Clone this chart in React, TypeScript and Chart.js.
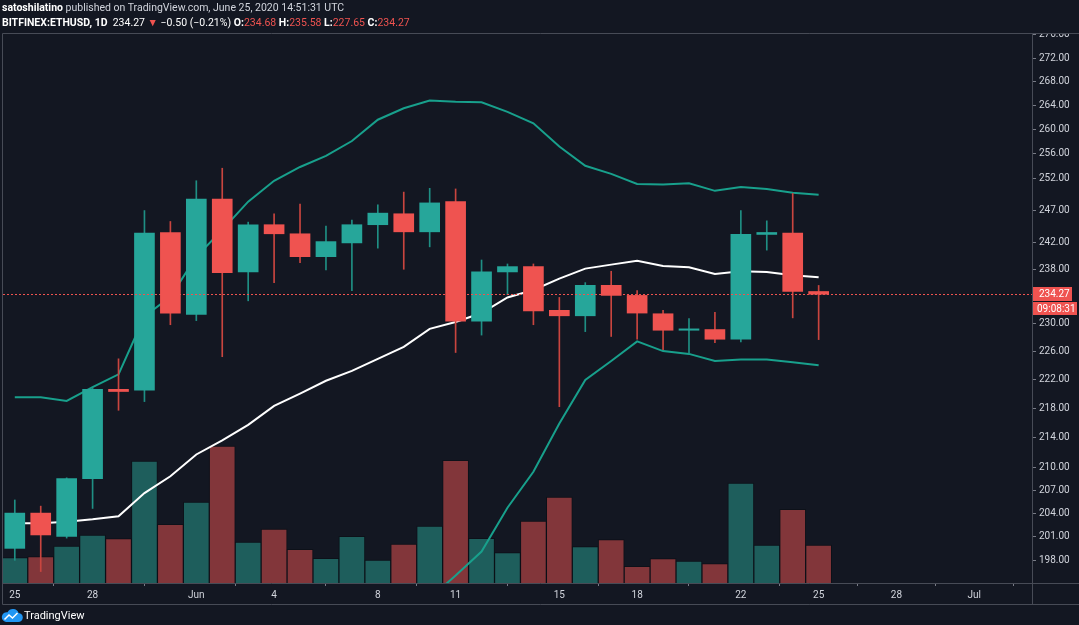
import React, { useEffect, useRef } from "react";
import { Chart, registerables } from "chart.js";

Chart.register(...registerables);

// ---- data (day index 0 = May 25, 2020) ----
const opens = [199.5, 204.0, 201.0, 208.5, 220.6, 220.5, 243.6, 231.3, 248.8, 237.6, 244.8, 243.4, 239.9, 242.0, 244.8, 246.5, 243.7, 248.4, 230.3, 237.6, 238.4, 231.9, 231.1, 235.6, 234.1, 231.4, 229.0, 229.1, 227.7, 243.3, 243.5, 234.68];
const highs = [205.7, 204.9, 208.6, 220.8, 224.9, 247.0, 245.3, 251.7, 253.7, 245.2, 246.5, 248.0, 244.6, 245.5, 247.9, 249.9, 250.5, 250.4, 239.4, 238.8, 238.8, 233.8, 236.0, 237.7, 234.8, 231.9, 230.7, 231.6, 247.0, 245.4, 249.7, 235.58];
const lows = [198.0, 196.6, 200.8, 204.6, 217.7, 218.9, 229.8, 230.4, 225.2, 233.3, 236.0, 239.0, 237.9, 234.8, 241.2, 238.0, 241.4, 225.8, 228.3, 234.2, 229.8, 218.2, 228.8, 228.1, 227.7, 226.2, 225.7, 227.2, 227.3, 240.9, 230.8, 227.65];
const closes = [204.0, 201.2, 208.5, 220.6, 220.3, 243.5, 231.5, 248.8, 237.5, 244.8, 243.4, 239.9, 242.2, 244.8, 246.6, 243.7, 248.2, 230.3, 237.6, 238.4, 231.8, 231.1, 235.6, 234.1, 231.5, 229.0, 229.2, 227.7, 243.3, 243.6, 234.7, 234.27];
const volumes = [7.6, 7.9, 11.1, 14.4, 13.3, 36.6, 17.6, 24.3, 41.1, 12.3, 16.2, 10.1, 7.4, 14.0, 6.9, 11.7, 17.1, 36.8, 13.4, 9.1, 18.6, 25.8, 10.9, 13.0, 5.0, 7.3, 6.6, 5.8, 30.0, 11.4, 22.1, 11.4];
const bbUpper = [219.5, 219.5, 219.0, 220.9, 222.7, 231.0, 233.9, 239.9, 244.0, 248.4, 251.7, 253.9, 255.7, 258.1, 261.6, 263.5, 264.8, 264.6, 264.5, 262.9, 261.0, 257.2, 254.1, 252.8, 251.2, 251.1, 251.3, 250.1, 250.7, 250.4, 249.8, 249.5];
const bbMiddle = [202.7, 202.7, 202.9, 203.2, 203.6, 206.6, 208.8, 211.7, 213.6, 215.7, 218.3, 220.0, 221.8, 223.2, 224.9, 226.6, 229.2, 230.2, 231.5, 233.8, 234.9, 236.6, 238.1, 238.7, 239.3, 238.5, 238.3, 237.3, 237.7, 237.6, 237.1, 236.8];
const bbLower: (number | null)[] = [null, null, null, null, null, null, null, null, null, null, null, null, null, null, null, null, 193.3, 196.1, 199.1, 204.7, 209.4, 215.9, 221.9, 224.6, 227.4, 226.0, 225.6, 224.6, 224.8, 224.8, 224.4, 224.0];

const priceTicks = [276, 272, 268, 264, 260, 256, 252, 247, 242, 238, 230, 226, 222, 218, 214, 210, 207, 204, 201, 198];
const dateTickDays = [0, 3, 7, 10, 14, 17, 21, 24, 28, 31, 34, 37];
const dateTickLabels = ["25", "28", "Jun", "4", "8", "11", "15", "18", "22", "25", "28", "Jul"];

const lastPrice = 234.27;
const countdown = "09:08:31";

// ---- styles ----
const W = 1079;
const H = 625;
const BG = "#131722";
const UP = "#26a69a";
const DOWN = "#ef5350";
const UP_WICK = "#1f8f84";
const DOWN_WICK = "#c9453f";
const VOL_UP = "#1e5e5c";
const VOL_DOWN = "#82363a";
const BAND = "#18a08c";
const FRAME = "#474b56";
const TEXT = "#d1d4dc";

const overlayPlugin = {
  id: "tvOverlay",
  afterDraw(chart: any) {
    const ctx = chart.ctx as CanvasRenderingContext2D;
    const { left, right, top, bottom } = chart.chartArea;
    const y = chart.scales.y.getPixelForValue(lastPrice);
    ctx.save();
    // current price dotted line
    ctx.strokeStyle = DOWN;
    ctx.lineWidth = 1;
    ctx.setLineDash([2, 2]);
    ctx.beginPath();
    ctx.moveTo(left, Math.round(y) + 0.5);
    ctx.lineTo(right, Math.round(y) + 0.5);
    ctx.stroke();
    ctx.setLineDash([]);
    // mask above pane
    ctx.fillStyle = BG;
    ctx.fillRect(0, 0, W, top - 1);
    // frame lines
    ctx.strokeStyle = FRAME;
    ctx.lineWidth = 1;
    ctx.beginPath();
    ctx.moveTo(2.5, top - 0.5);
    ctx.lineTo(W, top - 0.5);
    ctx.moveTo(2.5, top - 0.5);
    ctx.lineTo(2.5, bottom + 21.5);
    ctx.moveTo(2.5, bottom + 0.5);
    ctx.lineTo(W, bottom + 0.5);
    ctx.moveTo(2.5, bottom + 21.5);
    ctx.lineTo(W, bottom + 21.5);
    ctx.moveTo(right + 0.5, top - 0.5);
    ctx.lineTo(right + 0.5, bottom + 21.5);
    ctx.stroke();
    // price label boxes
    const yr = Math.round(y);
    ctx.fillStyle = DOWN;
    ctx.fillRect(right + 1, yr - 7, 39, 14);
    ctx.fillRect(right + 1, yr + 8, 44, 13);
    ctx.fillStyle = "#ffffff";
    ctx.font = "10px Roboto";
    ctx.textBaseline = "middle";
    ctx.textAlign = "left";
    ctx.fillText(lastPrice.toFixed(2), right + 7, yr + 0.5);
    ctx.fillText(countdown, right + 5, yr + 15);
    ctx.restore();
  },
};

function ChartCanvas() {
  const ref = useRef<HTMLCanvasElement | null>(null);
  useEffect(() => {
    if (!ref.current) return;
    const idx = opens.map((_, i) => i);
    const isUp = idx.map((i) => closes[i] >= opens[i]);

    const chart = new Chart(ref.current, {
      type: "bar",
      data: {
        datasets: [
          {
            type: "bar",
            label: "Bodies",
            data: idx.map((i) => ({ x: i, y: [opens[i], closes[i]] })) as any,
            backgroundColor: idx.map((i) => (isUp[i] ? UP : DOWN)),
            borderWidth: 0,
            barThickness: 20,
            grouped: false,
            order: 1,
            yAxisID: "y",
          } as any,
          {
            type: "bar",
            label: "Wicks",
            data: idx.map((i) => ({ x: i, y: [lows[i], highs[i]] })) as any,
            backgroundColor: idx.map((i) => (isUp[i] ? UP_WICK : DOWN_WICK)),
            borderWidth: 0,
            barThickness: 1,
            grouped: false,
            order: 2,
            yAxisID: "y",
          } as any,
          {
            type: "line",
            label: "BB Upper",
            data: idx.map((i) => ({ x: i, y: bbUpper[i] })),
            borderColor: BAND,
            borderWidth: 2,
            pointRadius: 0,
            tension: 0,
            order: 5,
            yAxisID: "y",
          } as any,
          {
            type: "line",
            label: "BB Basis",
            data: idx.map((i) => ({ x: i, y: bbMiddle[i] })),
            borderColor: "#ffffff",
            borderWidth: 2,
            pointRadius: 0,
            tension: 0,
            order: 5,
            yAxisID: "y",
          } as any,
          {
            type: "line",
            label: "BB Lower",
            data: idx.map((i) => ({ x: i, y: bbLower[i] })),
            borderColor: BAND,
            borderWidth: 2,
            pointRadius: 0,
            tension: 0,
            spanGaps: false,
            order: 5,
            yAxisID: "y",
          } as any,
          {
            type: "bar",
            label: "Volume",
            data: idx.map((i) => ({ x: i, y: volumes[i] })),
            backgroundColor: idx.map((i) => (isUp[i] ? VOL_UP : VOL_DOWN)),
            borderColor: "rgba(10,12,18,0.55)",
            borderWidth: 1,
            barThickness: 26,
            grouped: false,
            order: 10,
            yAxisID: "vol",
          } as any,
        ],
      },
      options: {
        responsive: false,
        maintainAspectRatio: false,
        animation: false,
        devicePixelRatio: 1,
        layout: { padding: { left: 3, top: 34, right: 0, bottom: 21 } },
        plugins: {
          legend: { display: false },
          tooltip: { enabled: false },
          title: { display: false },
        },
        scales: {
          x: {
            type: "linear",
            min: -0.455,
            max: 39.228,
            offset: false,
            position: "bottom",
            grid: { drawOnChartArea: false, drawTicks: true, tickLength: 3, color: "#787b86" },
            border: { display: false },
            afterBuildTicks: (scale: any) => {
              scale.ticks = dateTickDays.map((v) => ({ value: v }));
            },
            afterFit: (scale: any) => {
              scale.height = 21;
            },
            ticks: {
              autoSkip: false,
              maxRotation: 0,
              minRotation: 0,
              padding: 3,
              color: TEXT,
              font: { family: "Roboto", size: 10 },
              callback: (v: any) => {
                const k = dateTickDays.indexOf(Number(v));
                return k >= 0 ? dateTickLabels[k] : "";
              },
            },
          },
          y: {
            type: "logarithmic",
            position: "right",
            min: 195.18,
            max: 276.17,
            grid: { drawOnChartArea: false, drawTicks: true, tickLength: 4, color: "#787b86" },
            border: { display: false },
            afterBuildTicks: (scale: any) => {
              scale.ticks = priceTicks.map((v) => ({ value: v }));
            },
            afterFit: (scale: any) => {
              scale.width = 47;
            },
            ticks: {
              autoSkip: false,
              padding: 3,
              color: TEXT,
              font: { family: "Roboto", size: 10 },
              callback: (v: any) => Number(v).toFixed(2),
            },
          },
          vol: {
            type: "linear",
            display: false,
            min: 0,
            max: 164.7,
          },
        },
      } as any,
      plugins: [overlayPlugin],
    });
    return () => chart.destroy();
  }, []);
  return (
    <canvas
      ref={ref}
      width={W}
      height={H}
      style={{ position: "absolute", left: 0, top: 0, width: W, height: H }}
    />
  );
}

export default function App() {
  const red = { color: DOWN };
  return (
    <div
      style={{
        position: "fixed",
        left: 0,
        top: 0,
        width: W,
        height: H,
        background: BG,
        overflow: "hidden",
        fontFamily: "Roboto, sans-serif",
      }}
    >
      <ChartCanvas />
      <div
        style={{
          position: "absolute",
          left: 2,
          top: 0,
          color: TEXT,
          fontSize: 10.5,
          lineHeight: "15px",
          whiteSpace: "nowrap",
        }}
      >
        <div>
          <b style={{ color: "#ffffff" }}>satoshilatino</b> published on TradingView.com, June 25, 2020 14:51:31 UTC
        </div>
        <div style={{ color: "#ffffff" }}>
          <b>BITFINEX:ETHUSD, 1D</b>&nbsp; 234.27 <span style={red}>▼</span> −0.50 (−0.21%){" "}
          <b>O:</b><span style={red}>234.68</span> <b>H:</b><span style={red}>235.58</span>{" "}
          <b>L:</b><span style={red}>227.65</span> <b>C:</b><span style={red}>234.27</span>
        </div>
      </div>
      <div style={{ position: "absolute", left: 1, top: 607, display: "flex", alignItems: "center" }}>
        <svg width="22" height="16" viewBox="0 0 22 16">
          <path d="M5 15 H17 A4.5 4.5 0 0 0 17.6 6 A6 6 0 0 0 6.6 5.2 A4.9 4.9 0 0 0 5 15 Z" fill="#2196f3" />
          <polyline points="3.5,12.5 8,8 11.5,11 16.5,6" stroke="#ffffff" fill="none" strokeWidth="1.5" />
        </svg>
        <span style={{ color: "#ffffff", fontSize: 11, marginLeft: 1 }}>TradingView</span>
      </div>
    </div>
  );
}
